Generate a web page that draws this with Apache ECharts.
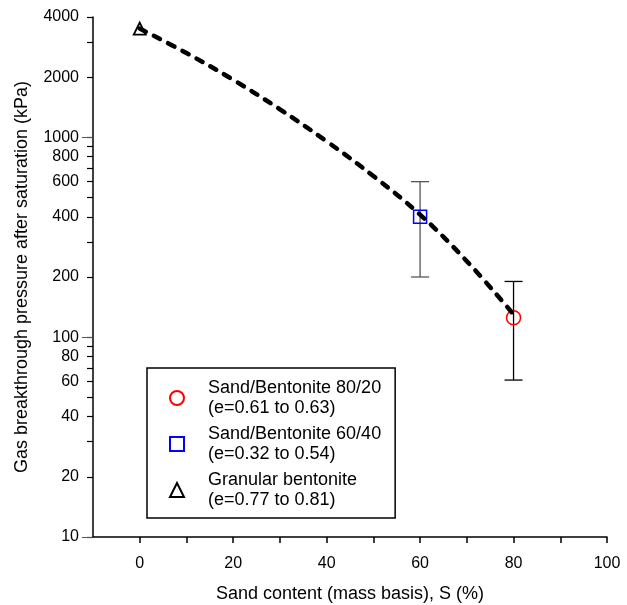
<!DOCTYPE html>
<html>
<head>
<meta charset="utf-8">
<script src="https://cdn.jsdelivr.net/npm/echarts@6/dist/echarts.min.js"></script>
<style>
  html, body { margin: 0; padding: 0; background: #fff; }
  #chart { width: 627px; height: 605px; }
</style>
</head>
<body>
<div id="chart"></div>
<script>
  // values
  const sand8020 = [[80, 125]];
  const sand6040 = [[60, 400]];
  const granular = [[0, 3500]];
  // [x, low, high]
  const errorBars = [[60, 200, 600], [80, 61, 190]];
  // dashed trend line
  const trendX = [0, 10, 20, 30, 40, 50, 60, 70, 80];
  const trendY = [3500, 2640, 1940, 1380, 955, 640, 410, 240, 130];
  const xTicks = [0, 10, 20, 30, 40, 50, 60, 70, 80, 90, 100];
  const yLabelTicks = [10, 20, 40, 60, 80, 100, 200, 400, 600, 800, 1000, 2000, 4000];
  const yMinorTicks = [30, 50, 70, 90, 300, 500, 700, 900, 3000];
  const yDecadeTicks = [10, 100, 1000];
  const legendNames = ['Sand/Bentonite 80/20\n(e=0.61 to 0.63)', 'Sand/Bentonite 60/40\n(e=0.32 to 0.54)', 'Granular bentonite\n(e=0.77 to 0.81)'];

  const lg = v => Math.log10(v);
  const font = 'Arial, "Liberation Sans", sans-serif';

  let myChart = echarts.init(document.getElementById('chart'));
  myChart.setOption({
    backgroundColor: '#ffffff',
    animation: false,
    grid: { left: 93, right: 20, top: 17, bottom: 68, containLabel: false, outerBoundsMode: 'none' },
    legend: {
      orient: 'vertical',
      left: 147,
      top: 368,
      padding: [10, 14, 8, 22],
      itemGap: 6,
      itemWidth: 14,
      itemHeight: 14,
      borderColor: '#000',
      borderWidth: 1.5,
      textStyle: { fontFamily: font, fontSize: 18, color: '#000', lineHeight: 20, padding: [0, 0, 0, 19] },
      data: legendNames
    },
    xAxis: {
      type: 'value',
      min: -10,
      max: 100,
      interval: 10,
      splitLine: { show: false },
      axisLine: { onZero: false, lineStyle: { color: '#000', width: 1.5 } },
      axisTick: { length: 6, customValues: xTicks, lineStyle: { color: '#000', width: 1.5 } },
      axisLabel: {
        margin: 19,
        fontFamily: font, fontSize: 16, color: '#000',
        formatter: v => (v >= 0 && v % 20 === 0) ? String(v) : ''
      },
      name: 'Sand content (mass basis), S (%)',
      nameLocation: 'middle',
      nameGap: 48,
      nameTextStyle: { fontFamily: font, fontSize: 18, color: '#000' }
    },
    yAxis: [
      {
        type: 'value',
        min: 1,
        max: lg(4000),
        splitLine: { show: false },
        axisLine: { onZero: false, lineStyle: { color: '#000', width: 1.5 } },
        axisTick: {
          length: 6,
          customValues: yLabelTicks.concat(yMinorTicks).map(lg),
          lineStyle: { color: '#000', width: 1.2 }
        },
        axisLabel: {
          margin: 14,
          customValues: yLabelTicks.map(lg),
          fontFamily: font, fontSize: 16, color: '#000',
          formatter: v => String(Math.round(Math.pow(10, v)))
        },
        name: 'Gas breakthrough pressure after saturation (kPa)',
        nameLocation: 'middle',
        nameGap: 62,
        nameTextStyle: { fontFamily: font, fontSize: 18, color: '#000' }
      },
      {
        type: 'value',
        position: 'left',
        min: 1,
        max: lg(4000),
        splitLine: { show: false },
        axisLine: { show: false, onZero: false },
        axisLabel: { show: false },
        axisTick: {
          length: 11,
          customValues: yDecadeTicks.map(lg),
          lineStyle: { color: '#555', width: 1 }
        }
      }
    ],
    series: [
      {
        type: 'custom',
        name: 'errors',
        z: 1,
        silent: true,
        renderItem: function (params, api) {
          const x = api.value(0);
          const lo = api.coord([x, lg(api.value(1))]);
          const hi = api.coord([x, lg(api.value(2))]);
          const half = 9;
          const color = params.dataIndex === 0 ? '#555' : '#000';
          const style = { stroke: color, lineWidth: 1.3 };
          return {
            type: 'group',
            children: [
              { type: 'line', shape: { x1: lo[0], y1: lo[1], x2: hi[0], y2: hi[1] }, style: style },
              { type: 'line', shape: { x1: hi[0] - half, y1: hi[1], x2: hi[0] + half, y2: hi[1] }, style: style },
              { type: 'line', shape: { x1: lo[0] - half, y1: lo[1], x2: lo[0] + half, y2: lo[1] }, style: style }
            ]
          };
        },
        data: errorBars
      },
      {
        type: 'line',
        name: 'trend',
        z: 5,
        smooth: 0.4,
        symbol: 'none',
        lineStyle: { color: '#000', width: 4.5, type: [7, 9], cap: 'round' },
        data: trendX.map((x, i) => [x, lg(trendY[i])])
      },
      {
        type: 'scatter',
        name: legendNames[0],
        z: 3,
        symbol: 'circle',
        symbolSize: 14,
        itemStyle: { color: 'rgba(255,255,255,0)', borderColor: '#ff0000', borderWidth: 1.5, opacity: 1 },
        data: sand8020.map(d => [d[0], lg(d[1])])
      },
      {
        type: 'scatter',
        name: legendNames[1],
        z: 3,
        symbol: 'rect',
        symbolSize: 13,
        itemStyle: { color: 'rgba(255,255,255,0)', borderColor: '#0000ff', borderWidth: 1.5, opacity: 1 },
        data: sand6040.map(d => [d[0], lg(d[1])])
      },
      {
        type: 'scatter',
        name: legendNames[2],
        z: 3,
        symbol: 'triangle',
        symbolSize: 12,
        itemStyle: { color: 'rgba(255,255,255,0)', borderColor: '#000', borderWidth: 1.8, opacity: 1 },
        data: granular.map(d => [d[0], lg(d[1])])
      }
    ]
  });
</script>
</body>
</html>
